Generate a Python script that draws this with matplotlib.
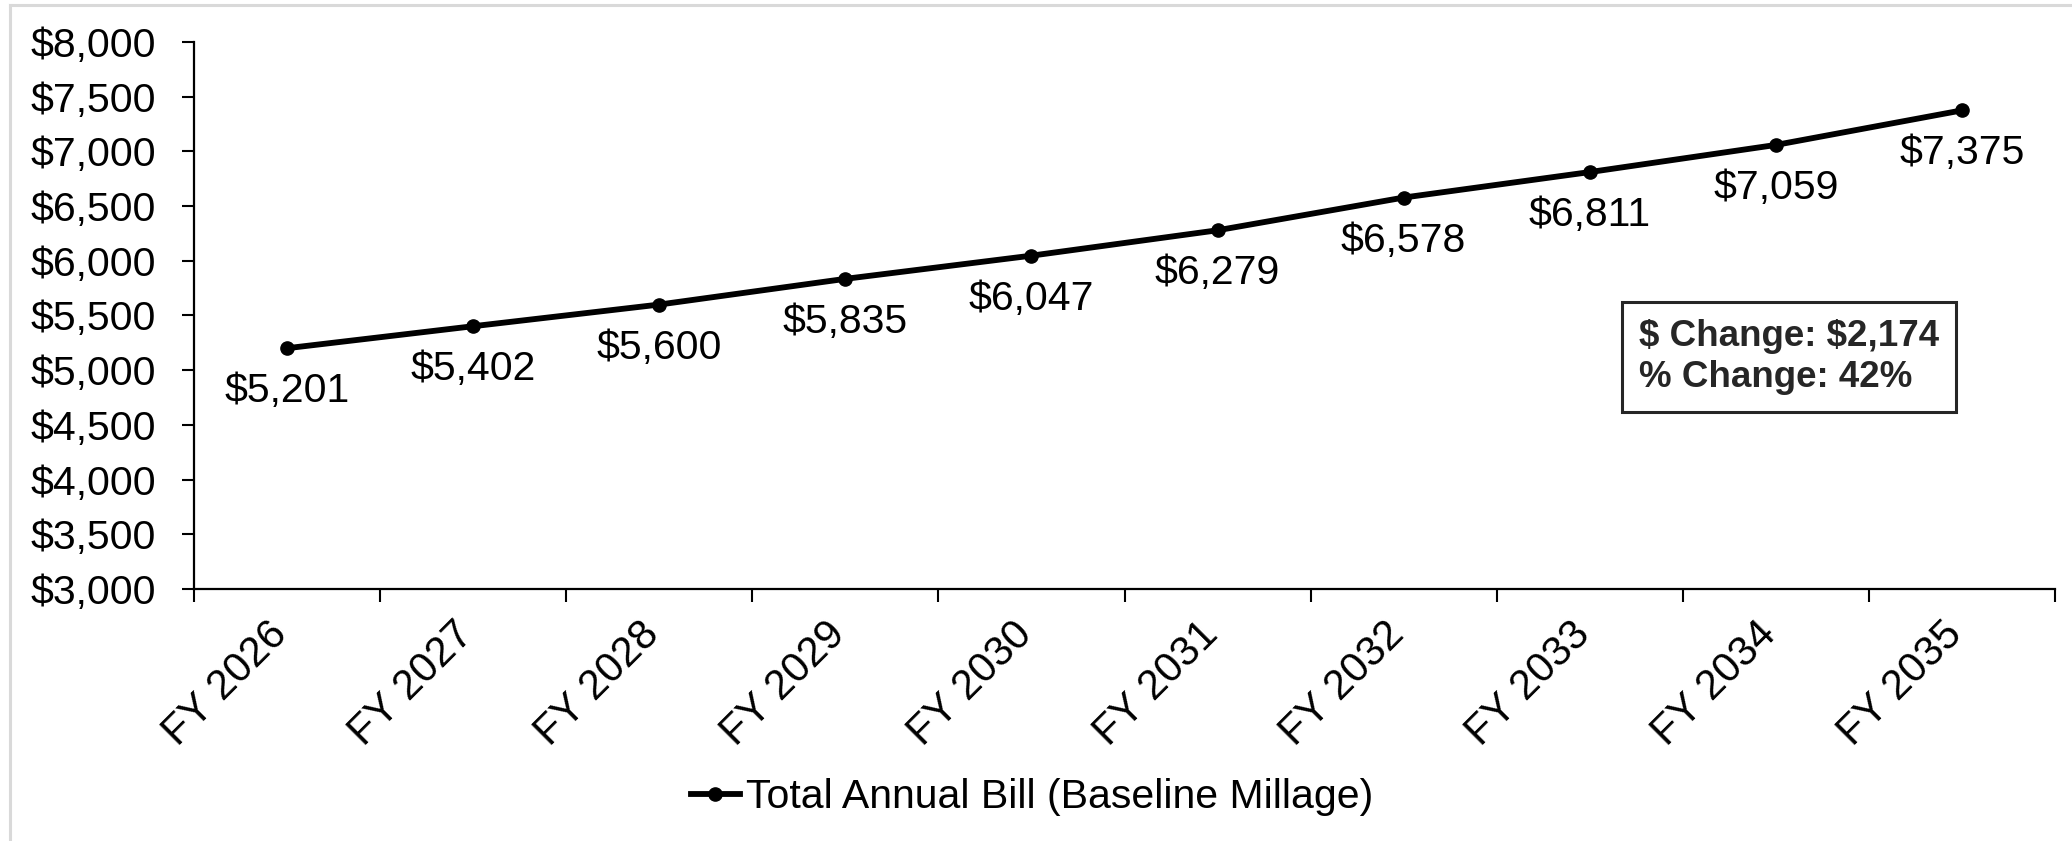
import matplotlib
matplotlib.use("Agg")
import matplotlib.pyplot as plt
from matplotlib.lines import Line2D
from matplotlib.ticker import FixedLocator, FuncFormatter
from matplotlib.transforms import ScaledTranslation

plt.rcParams['font.family'] = ['Liberation Sans', 'DejaVu Sans']

categories = ["FY 2026", "FY 2027", "FY 2028", "FY 2029", "FY 2030",
              "FY 2031", "FY 2032", "FY 2033", "FY 2034", "FY 2035"]
total_bill = [5201, 5402, 5600, 5835, 6047, 6279, 6578, 6811, 7059, 7375]
series_name = "Total Annual Bill (Baseline Millage)"
box_lines = ["$ Change: $2,174", "% Change: 42%"]

W, H, DPI = 2072, 841, 100
fig = plt.figure(figsize=(W / DPI, H / DPI), dpi=DPI)
ax = fig.add_axes([194 / W, 1 - 589 / H, (2055 - 194) / W, (589 - 42) / H])

x = list(range(len(categories)))
ax.plot(x, total_bill, color='black', lw=4.2, marker='o', ms=9.5,
        solid_capstyle='round', zorder=3, clip_on=False)

for xi, v in zip(x, total_bill):
    ax.annotate(f"${v:,}", (xi, v), xytext=(0, -31), textcoords='offset points',
                ha='center', va='center', fontsize=29.5, color='black', parse_math=False)

ax.set_xlim(-0.5, len(categories) - 0.5)
ax.set_ylim(3000, 8000)
ax.yaxis.set_major_locator(FixedLocator(list(range(3000, 8001, 500))))
ax.yaxis.set_major_formatter(FuncFormatter(lambda v, p: f"${int(v):,}"))

ax.xaxis.set_major_locator(FixedLocator([i - 0.5 for i in range(len(categories) + 1)]))
ax.xaxis.set_major_formatter(FuncFormatter(lambda v, p: ""))
ax.set_xticks(x, minor=True)
ax.set_xticklabels(categories, minor=True, rotation=45, ha='right', va='top',
                   rotation_mode='anchor', fontsize=30)
ax.tick_params(axis='x', which='minor', length=0, pad=22)
ax.tick_params(axis='x', which='major', length=9.4, width=1.5, direction='out')
ax.tick_params(axis='y', which='major', length=8.6, width=1.5, direction='out',
               pad=19, labelsize=29.5)
shift = ScaledTranslation(-20 / DPI, 5 / DPI, fig.dpi_scale_trans)
for lab in ax.get_xticklabels(minor=True):
    lab.set_transform(lab.get_transform() + shift)

for s in ['top', 'right']:
    ax.spines[s].set_visible(False)
for s in ['left', 'bottom']:
    ax.spines[s].set_linewidth(1.6)
    ax.spines[s].set_color('black')

# change box
fig.text(1639 / W, 1 - 357 / H, "\n".join(box_lines), ha='left', va='center',
         fontsize=26.5, fontweight='bold', color='#262626', linespacing=1.25,
         parse_math=False,
         bbox=dict(boxstyle='square,pad=0.45', facecolor='white',
                   edgecolor='#262626', linewidth=2.2))

# legend
handle = Line2D([], [], color='black', lw=4.2, marker='o', ms=9.5)
fig.legend([handle], [series_name], loc='center', bbox_to_anchor=(1032 / W, 1 - 797 / H),
           frameon=False, fontsize=29.5, handlelength=1.2, handletextpad=0.15)

# outer light-gray border (top and left)
fig.add_artist(Line2D([10 / W, 1], [1 - 5 / H, 1 - 5 / H], color='#d9d9d9', lw=2.2,
                      transform=fig.transFigure))
fig.add_artist(Line2D([10 / W, 10 / W], [0, 1 - 5 / H], color='#d9d9d9', lw=2.2,
                      transform=fig.transFigure))

fig.savefig("out.png", dpi=DPI, facecolor='white')
